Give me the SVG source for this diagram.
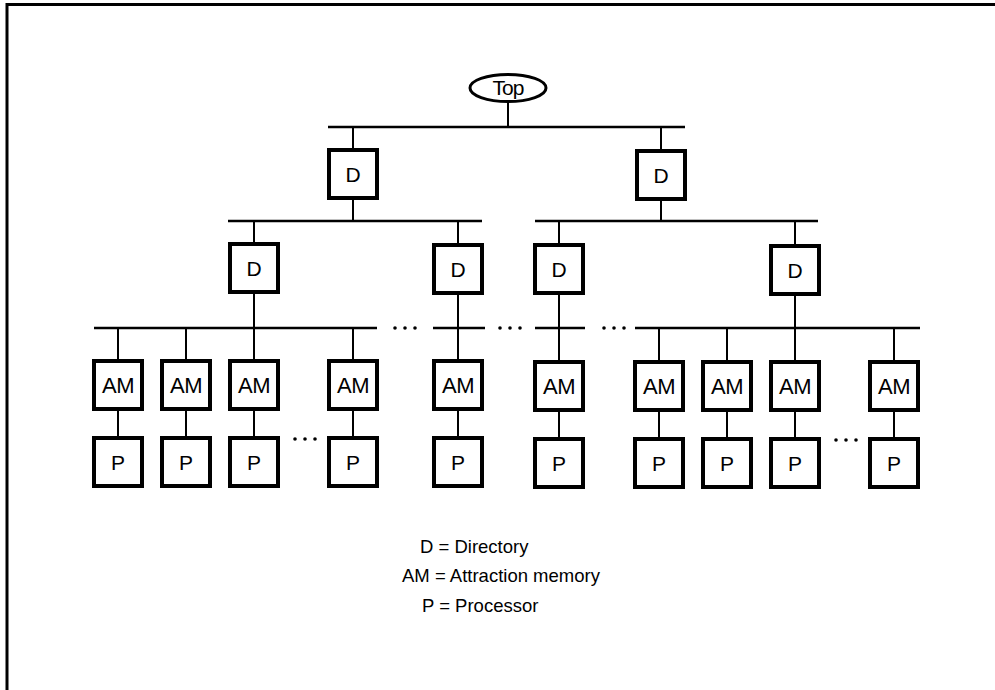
<svg xmlns="http://www.w3.org/2000/svg" width="995" height="690" viewBox="0 0 995 690">
<style>
.box{fill:#fff;stroke:#000;stroke-width:4}
.bus{stroke:#000;stroke-width:2.5;fill:none}
.ln{stroke:#000;stroke-width:2;fill:none}
.lbl{font-family:"Liberation Sans",Arial,sans-serif;font-size:21px;fill:#000;text-anchor:middle}
.am{font-size:22px;letter-spacing:-0.5px}
.leg{font-family:"Liberation Sans",Arial,sans-serif;font-size:18.5px;fill:#000}
.dot{fill:#000}
</style>
<rect width="995" height="690" fill="#fff"/>
<path d="M7,690 V4.5 H995" fill="none" stroke="#000" stroke-width="3"/>

<g id="connectors">
  <line class="ln" x1="508" y1="102" x2="508" y2="127"/>
  <line class="bus" x1="328" y1="127" x2="685" y2="127"/>
  <line class="ln" x1="353" y1="127" x2="353" y2="150"/>
  <line class="ln" x1="661" y1="127" x2="661" y2="151"/>
  <line class="ln" x1="353" y1="198" x2="353" y2="221"/>
  <line class="ln" x1="661" y1="199" x2="661" y2="221"/>
  <line class="bus" x1="228" y1="221" x2="482" y2="221"/>
  <line class="bus" x1="535" y1="221" x2="818" y2="221"/>
  <line class="ln" x1="254" y1="221" x2="254" y2="244"/>
  <line class="ln" x1="458" y1="221" x2="458" y2="245"/>
  <line class="ln" x1="559" y1="221" x2="559" y2="245"/>
  <line class="ln" x1="795" y1="221" x2="795" y2="246"/>
  <line class="bus" x1="94" y1="328" x2="377" y2="328"/>
  <line class="bus" x1="433" y1="328" x2="485" y2="328"/>
  <line class="bus" x1="535" y1="328" x2="585" y2="328"/>
  <line class="bus" x1="635" y1="328" x2="920" y2="328"/>
  <line class="ln" x1="254" y1="292" x2="254" y2="361"/>
  <line class="ln" x1="458" y1="293" x2="458" y2="361"/>
  <line class="ln" x1="559" y1="293" x2="559" y2="361"/>
  <line class="ln" x1="795" y1="294" x2="795" y2="361"/>
  <line class="ln" x1="118" y1="328" x2="118" y2="361"/>
  <line class="ln" x1="186" y1="328" x2="186" y2="361"/>
  <line class="ln" x1="353" y1="328" x2="353" y2="361"/>
  <line class="ln" x1="659" y1="328" x2="659" y2="361"/>
  <line class="ln" x1="727" y1="328" x2="727" y2="361"/>
  <line class="ln" x1="894" y1="328" x2="894" y2="361"/>
  <line class="ln" x1="118" y1="409" x2="118" y2="438"/>
  <line class="ln" x1="186" y1="409" x2="186" y2="438"/>
  <line class="ln" x1="254" y1="409" x2="254" y2="438"/>
  <line class="ln" x1="353" y1="409" x2="353" y2="438"/>
  <line class="ln" x1="458" y1="409" x2="458" y2="438"/>
  <line class="ln" x1="559" y1="409" x2="559" y2="438"/>
  <line class="ln" x1="659" y1="409" x2="659" y2="438"/>
  <line class="ln" x1="727" y1="409" x2="727" y2="438"/>
  <line class="ln" x1="795" y1="409" x2="795" y2="438"/>
  <line class="ln" x1="894" y1="409" x2="894" y2="438"/>
  <g id="ellipsis">
    <circle class="dot" cx="395" cy="328" r="1.8"/><circle class="dot" cx="405" cy="328" r="1.8"/><circle class="dot" cx="415" cy="328" r="1.8"/>
    <circle class="dot" cx="500" cy="328" r="1.8"/><circle class="dot" cx="510" cy="328" r="1.8"/><circle class="dot" cx="520" cy="328" r="1.8"/>
    <circle class="dot" cx="604" cy="328" r="1.8"/><circle class="dot" cx="614" cy="328" r="1.8"/><circle class="dot" cx="624" cy="328" r="1.8"/>
    <circle class="dot" cx="295" cy="439" r="1.8"/><circle class="dot" cx="305" cy="439" r="1.8"/><circle class="dot" cx="315" cy="439" r="1.8"/>
    <circle class="dot" cx="836" cy="440" r="1.8"/><circle class="dot" cx="846" cy="440" r="1.8"/><circle class="dot" cx="856" cy="440" r="1.8"/>
  </g>
</g>

<g id="top"><ellipse cx="508" cy="88" rx="38" ry="13.5" fill="#fff" stroke="#000" stroke-width="3"/><text class="lbl" x="508" y="95" font-size="22" letter-spacing="-1">Top</text></g>

<g id="d1"><rect class="box" x="329" y="150" width="48" height="48"/><text class="lbl" x="353" y="181.5">D</text></g>
<g id="d2"><rect class="box" x="637" y="151" width="48" height="48"/><text class="lbl" x="661" y="182.5">D</text></g>
<g id="d3"><rect class="box" x="230" y="244" width="48" height="48"/><text class="lbl" x="254" y="275.5">D</text></g>
<g id="d4"><rect class="box" x="434" y="245" width="48" height="48"/><text class="lbl" x="458" y="276.5">D</text></g>
<g id="d5"><rect class="box" x="535" y="245" width="48" height="48"/><text class="lbl" x="559" y="276.5">D</text></g>
<g id="d6"><rect class="box" x="771" y="246" width="48" height="48"/><text class="lbl" x="795" y="277.5">D</text></g>

<g id="am1"><rect class="box" x="94" y="361" width="48" height="48"/><text class="lbl am" x="118" y="393">AM</text></g>
<g id="am2"><rect class="box" x="162" y="361" width="48" height="48"/><text class="lbl am" x="186" y="393">AM</text></g>
<g id="am3"><rect class="box" x="230" y="361" width="48" height="48"/><text class="lbl am" x="254" y="393">AM</text></g>
<g id="am4"><rect class="box" x="329" y="361" width="48" height="48"/><text class="lbl am" x="353" y="393">AM</text></g>
<g id="am5"><rect class="box" x="434" y="361" width="48" height="48"/><text class="lbl am" x="458" y="393">AM</text></g>
<g id="am6"><rect class="box" x="535" y="362" width="48" height="48"/><text class="lbl am" x="559" y="394">AM</text></g>
<g id="am7"><rect class="box" x="635" y="362" width="48" height="48"/><text class="lbl am" x="659" y="394">AM</text></g>
<g id="am8"><rect class="box" x="703" y="362" width="48" height="48"/><text class="lbl am" x="727" y="394">AM</text></g>
<g id="am9"><rect class="box" x="771" y="362" width="48" height="48"/><text class="lbl am" x="795" y="394">AM</text></g>
<g id="am10"><rect class="box" x="870" y="362" width="48" height="48"/><text class="lbl am" x="894" y="394">AM</text></g>

<g id="p1"><rect class="box" x="94" y="438" width="48" height="48"/><text class="lbl" x="118" y="470">P</text></g>
<g id="p2"><rect class="box" x="162" y="438" width="48" height="48"/><text class="lbl" x="186" y="470">P</text></g>
<g id="p3"><rect class="box" x="230" y="438" width="48" height="48"/><text class="lbl" x="254" y="470">P</text></g>
<g id="p4"><rect class="box" x="329" y="438" width="48" height="48"/><text class="lbl" x="353" y="470">P</text></g>
<g id="p5"><rect class="box" x="434" y="438" width="48" height="48"/><text class="lbl" x="458" y="470">P</text></g>
<g id="p6"><rect class="box" x="535" y="439" width="48" height="48"/><text class="lbl" x="559" y="471">P</text></g>
<g id="p7"><rect class="box" x="635" y="439" width="48" height="48"/><text class="lbl" x="659" y="471">P</text></g>
<g id="p8"><rect class="box" x="703" y="439" width="48" height="48"/><text class="lbl" x="727" y="471">P</text></g>
<g id="p9"><rect class="box" x="771" y="439" width="48" height="48"/><text class="lbl" x="795" y="471">P</text></g>
<g id="p10"><rect class="box" x="870" y="439" width="48" height="48"/><text class="lbl" x="894" y="471">P</text></g>

<g id="legend">
  <text class="leg" x="420" y="553">D = Directory</text>
  <text class="leg" x="402" y="582">AM = Attraction memory</text>
  <text class="leg" x="422" y="612">P = Processor</text>
</g>
</svg>
